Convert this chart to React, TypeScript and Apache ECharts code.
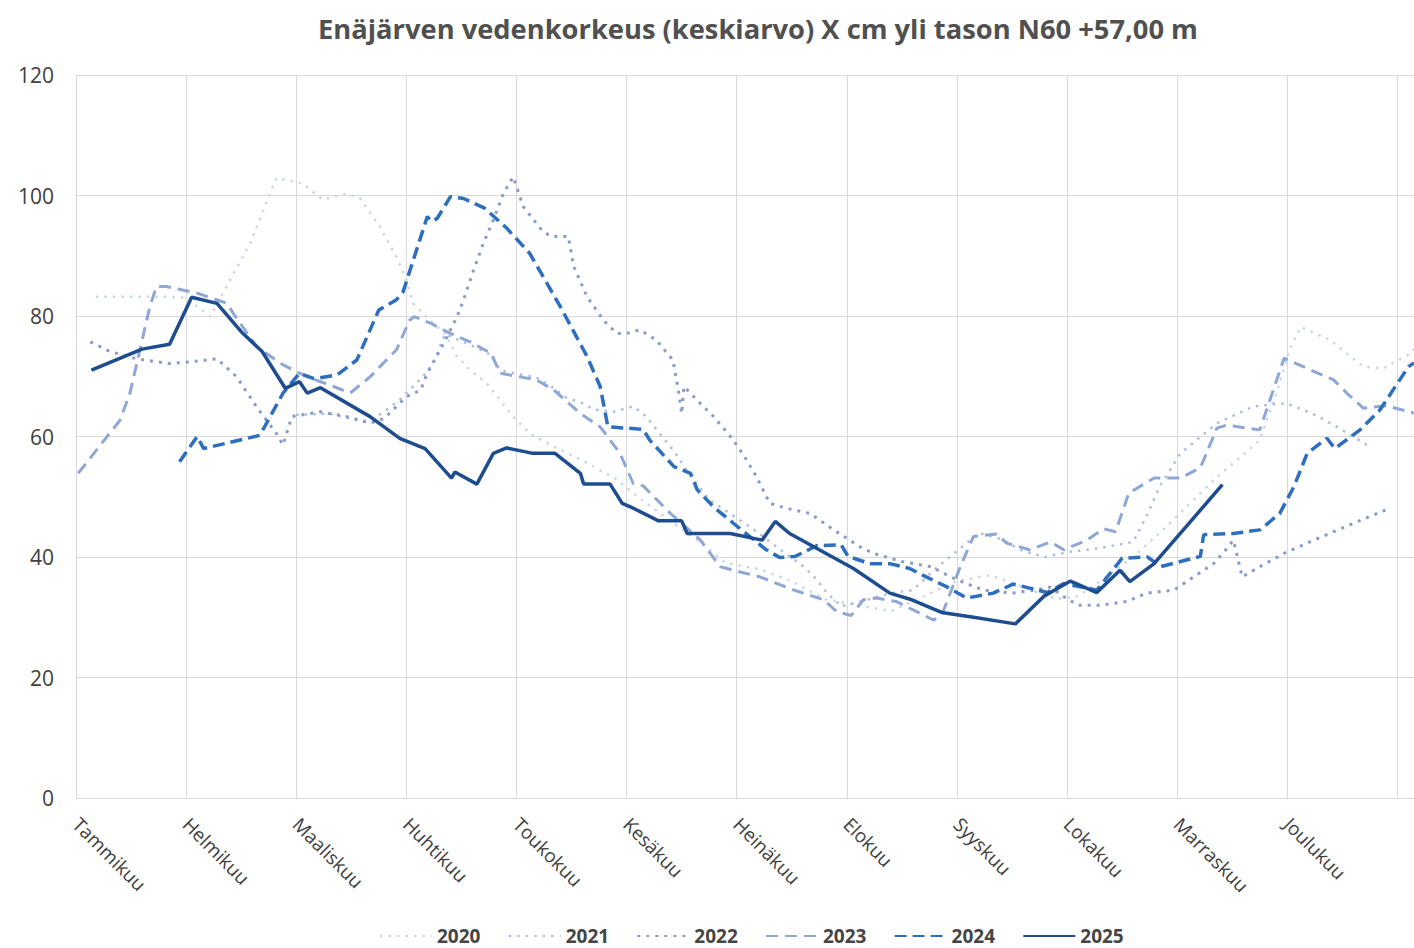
import React, { useEffect, useRef } from "react";
import * as echarts from "echarts";

// x = months since 1 January (0 = Tammikuu, 1 = Helmikuu, ...), y = cm above N60 +57,00 m
const months = [
  "Tammikuu", "Helmikuu", "Maaliskuu", "Huhtikuu", "Toukokuu", "Kesäkuu",
  "Heinäkuu", "Elokuu", "Syyskuu", "Lokakuu", "Marraskuu", "Joulukuu",
];
const years = ["2020", "2021", "2022", "2023", "2024", "2025"];

const d2020: [number, number][] = [
  [0.18, 83.2], [0.5, 83.2], [0.85, 83.2], [1.0, 83], [1.22, 79.9], [1.4, 86], [1.58, 92],
  [1.76, 100.3], [1.82, 102.9], [2.06, 102], [2.24, 99.3], [2.46, 100.3], [2.58, 99.5],
  [2.76, 94.8], [2.91, 89.8], [3.0, 86], [3.06, 82.1], [3.21, 79.3], [3.35, 77.1],
  [3.46, 73.3], [3.58, 71], [3.73, 68.8], [3.85, 66.1], [3.97, 63.3], [4.12, 60.5],
  [4.28, 58.9], [4.6, 56], [4.9, 53], [5.1, 50], [5.4, 46], [5.7, 42], [5.9, 39],
  [6.2, 38], [6.5, 36], [6.8, 33], [7.1, 32], [7.4, 31], [7.7, 33.5], [8.0, 36],
  [8.3, 37], [8.6, 35], [8.9, 33], [9.1, 33.5], [9.3, 36], [9.6, 40], [9.9, 45],
  [10.15, 49.5], [10.33, 52.8], [10.6, 57], [10.75, 59.4], [10.91, 67.7], [11.03, 74.9],
  [11.12, 78.2], [11.39, 76], [11.69, 71.6], [11.87, 71.3], [12.12, 73.8], [12.15, 74.5],
];

const d2021: [number, number][] = [
  [2.0, 63.6], [2.3, 63.8], [2.6, 62.5], [2.73, 63.3], [2.84, 64.7], [2.94, 66.1],
  [3.06, 68.3], [3.15, 69.9], [3.24, 72.1], [3.35, 77.0], [3.58, 75.2], [3.77, 73.5],
  [3.85, 71], [4.03, 70.3], [4.18, 69.8], [4.34, 68], [4.45, 66.5], [4.6, 65.5],
  [4.7, 64.5], [4.88, 64.1], [5.06, 65], [5.18, 63.3], [5.3, 60.5], [5.42, 57.8],
  [5.6, 53], [5.75, 49.5], [5.94, 47.2], [6.12, 45], [6.24, 43.4], [6.36, 41.7],
  [6.61, 38.4], [6.73, 36.2], [6.82, 34], [6.95, 31.8], [7.2, 33], [7.4, 34],
  [7.6, 34.5], [7.8, 38], [8.0, 41], [8.2, 44], [8.4, 43], [8.6, 41], [8.8, 40],
  [9.0, 40.8], [9.3, 41.5], [9.6, 42.5], [9.72, 46.7], [9.84, 51.7], [10.03, 57.2],
  [10.36, 62.2], [10.69, 65], [10.99, 65.5], [11.23, 63.8], [11.47, 61.4], [11.72, 58.6],
];

const d2022: [number, number][] = [
  [0.13, 75.7], [0.31, 74.1], [0.55, 72.9], [0.85, 72.1], [1.04, 72.4], [1.28, 72.9],
  [1.46, 69.9], [1.64, 64.9], [1.82, 60.5], [1.88, 58.6], [1.96, 63.3], [2.22, 64.1],
  [2.46, 63.3], [2.67, 62.2], [2.8, 63.0], [3.0, 66.6], [3.13, 67.7], [3.19, 70.5],
  [3.34, 75.5], [3.46, 79.9], [3.52, 82.7], [3.61, 87.6], [3.7, 92.1], [3.79, 95.9],
  [3.88, 100.3], [3.97, 103.1], [4.06, 98.2], [4.24, 94], [4.32, 93.2], [4.47, 93.2],
  [4.52, 88.2], [4.64, 83.2], [4.79, 79.3], [4.91, 77.1], [5.0, 77.1], [5.12, 77.7],
  [5.27, 76], [5.42, 72.7], [5.47, 67.7], [5.5, 63.8], [5.52, 68.3], [5.61, 66.6],
  [5.79, 63.3], [5.97, 59.4], [6.09, 56.1], [6.18, 53.3], [6.3, 48.9], [6.45, 48.1],
  [6.67, 47.2], [6.88, 44.5], [7.12, 41.7], [7.24, 40.6], [7.51, 39.2], [7.76, 38.4],
  [8.0, 36.2], [8.24, 34.5], [8.5, 34], [8.7, 34.5], [8.85, 35], [8.97, 33.4],
  [9.1, 32], [9.3, 32], [9.54, 32.6], [9.72, 34], [9.97, 34.5], [10.15, 36.7],
  [10.33, 38.9], [10.45, 41.4], [10.51, 42.8], [10.59, 36.7], [10.75, 38.4],
  [10.97, 40.6], [11.24, 42.8], [11.6, 45.6], [11.89, 47.8],
];

const d2023: [number, number][] = [
  [0.02, 53.9], [0.4, 62.7], [0.49, 67.2], [0.67, 81.5], [0.73, 84.9], [0.82, 84.9],
  [1.1, 83.8], [1.37, 82.1], [1.43, 80.4], [1.64, 74.9], [1.88, 71.9], [2.1, 69.9],
  [2.34, 68.3], [2.49, 67.2], [2.67, 69.9], [2.91, 74.4], [3.03, 79.3], [3.07, 79.9],
  [3.22, 78.8], [3.4, 77.1], [3.58, 75.7], [3.77, 73.8], [3.85, 70.5], [4.03, 69.9],
  [4.18, 69.4], [4.34, 67.7], [4.58, 63.8], [4.76, 61.6], [4.94, 57.2], [5.06, 52.2],
  [5.15, 51.8], [5.4, 47.2], [5.67, 42.8], [5.85, 38.4], [5.97, 37.8], [6.21, 36.7],
  [6.52, 34.5], [6.79, 32.9], [6.91, 30.9], [7.04, 30.3], [7.15, 32.9], [7.27, 33.2],
  [7.45, 32.6], [7.67, 30.6], [7.79, 29.5], [7.88, 31.2], [8.03, 38.4], [8.15, 43.4],
  [8.36, 43.8], [8.45, 42.3], [8.66, 41.2], [8.85, 42.5], [8.97, 41.2], [9.18, 42.8],
  [9.33, 44.7], [9.44, 44.2], [9.56, 50.6], [9.79, 53.1], [10.03, 53.1], [10.21, 54.8],
  [10.36, 61.4], [10.45, 61.9], [10.75, 61.1], [10.97, 73], [11.18, 71.3], [11.42, 69.4],
  [11.54, 67.2], [11.69, 64.7], [11.9, 65.1], [12.15, 63.9],
];

const d2024: [number, number][] = [
  [0.94, 55.8], [1.1, 60.0], [1.16, 58.0], [1.67, 60.2], [1.88, 67.2], [2.03, 70.5],
  [2.16, 69.6], [2.37, 70.2], [2.55, 72.7], [2.75, 81.0], [2.91, 82.7], [2.97, 84.0],
  [3.19, 96.5], [3.23, 95.7], [3.28, 96.2], [3.4, 99.8], [3.52, 99.5], [3.71, 97.9],
  [3.91, 94.6], [4.12, 90.4], [4.4, 81.5], [4.64, 73.3], [4.76, 68.3], [4.83, 61.6],
  [5.15, 61.2], [5.21, 59.4], [5.43, 55], [5.58, 53.9], [5.64, 51.2], [5.79, 48.3],
  [5.97, 45.6], [6.26, 41.3], [6.39, 39.9], [6.53, 40.1], [6.73, 41.9], [6.95, 42],
  [7.01, 40.1], [7.21, 38.9], [7.39, 38.9], [7.57, 38.1], [7.72, 36.7], [7.9, 35.1],
  [8.09, 33.2], [8.33, 34.0], [8.51, 35.5], [8.67, 34.8], [8.82, 34.1], [8.97, 35.6],
  [9.27, 34.5], [9.5, 39.8], [9.73, 40.0], [9.85, 38.4], [10.21, 40.1], [10.24, 43.7],
  [10.51, 43.9], [10.75, 44.5], [10.93, 47.2], [11.06, 51.7], [11.18, 57.2],
  [11.36, 59.7], [11.43, 58.0], [11.66, 61.1], [11.84, 64.4], [12.1, 71.6], [12.15, 72.2],
];

const d2025: [number, number][] = [
  [0.14, 71], [0.6, 74.5], [0.85, 75.3], [1.05, 83.1], [1.28, 82.1], [1.5, 77.4],
  [1.69, 74.1], [1.9, 68.0], [2.03, 69.1], [2.1, 67.2], [2.22, 68.1], [2.67, 63.3],
  [2.94, 59.7], [3.17, 58.0], [3.41, 53.1], [3.44, 54.1], [3.64, 52.1], [3.79, 57.2],
  [3.91, 58.1], [4.15, 57.2], [4.35, 57.2], [4.58, 53.9], [4.61, 52.1], [4.85, 52.1],
  [4.96, 48.9], [5.06, 48.1], [5.29, 46.0], [5.5, 46.0], [5.55, 43.9], [5.94, 43.9],
  [6.23, 42.8], [6.35, 45.9], [6.48, 43.9], [7.06, 38.1], [7.39, 34.0], [7.59, 32.9],
  [7.86, 30.8], [8.15, 30.0], [8.53, 28.9], [8.79, 33.5], [9.03, 36.0], [9.27, 34.1],
  [9.48, 37.8], [9.57, 35.9], [9.79, 38.9], [10.41, 52.0],
];

const FONT = "'Open Sans', 'Noto Sans', sans-serif";

export default function App() {
  const ref = useRef<HTMLDivElement>(null);
  useEffect(() => {
    document.body.style.margin = "0";
    if (!ref.current) return;
    const chart = echarts.init(ref.current, undefined, { renderer: "svg" });
    const styles = [
      { data: d2020, color: "#ccd6ea", width: 2.5, type: [2.5, 6] },
      { data: d2021, color: "#aebddf", width: 2.5, type: [2.5, 6] },
      { data: d2022, color: "#8a9bca", width: 3, type: [3, 6] },
      { data: d2023, color: "#8ea7d7", width: 3, type: [12, 7] },
      { data: d2024, color: "#2e6ebe", width: 3.5, type: [12, 6] },
      { data: d2025, color: "#1d4c8f", width: 3.5, type: "solid" },
    ];
    chart.setOption({
      animation: false,
      backgroundColor: "#ffffff",
      title: {
        text: "Enäjärven vedenkorkeus (keskiarvo) X cm yli tason N60 +57,00 m",
        left: 753,
        top: 10,
        textAlign: "center",
        textStyle: { fontFamily: FONT, fontSize: 27.3, fontWeight: "bold", color: "#505050" },
      },
      grid: { left: 76, right: 0, top: 75, bottom: 150, containLabel: false },
      legend: {
        data: years,
        left: 377,
        top: 924,
        itemWidth: 52,
        itemHeight: 12,
        itemGap: 27.2,
        padding: 2,
        itemStyle: { opacity: 0 },
        textStyle: { fontFamily: FONT, fontSize: 19, fontWeight: "bold", color: "#454545", lineHeight: 20 },
      },
      xAxis: {
        type: "value",
        min: 0,
        max: 12.15,
        interval: 1,
        axisLine: { show: true, lineStyle: { color: "#d9d9d9", width: 1 } },
        axisTick: { show: false },
        splitLine: { show: true, lineStyle: { color: "#d9d9d9", width: 1 } },
        axisLabel: {
          rotate: -45,
          margin: 23,
          fontFamily: FONT,
          fontSize: 19,
          color: "#404040",
          showMaxLabel: false,
          formatter: (v: number) => (Number.isInteger(v) && v < months.length ? months[v] : ""),
        },
      },
      yAxis: {
        type: "value",
        min: 0,
        max: 120,
        interval: 20,
        axisLine: { show: false },
        axisTick: { show: false },
        splitLine: { show: true, lineStyle: { color: "#d9d9d9", width: 1 } },
        axisLabel: { margin: 22, fontFamily: FONT, fontSize: 21, color: "#404040" },
      },
      series: styles.map((s, i) => ({
        name: years[i],
        type: "line",
        data: s.data,
        symbol: "none",
        showSymbol: false,
        smooth: false,
        color: s.color,
        lineStyle: { color: s.color, width: s.width, type: s.type, cap: "butt" },
        z: 2 + i,
      })),
    });
    return () => chart.dispose();
  }, []);
  return <div ref={ref} style={{ width: 1414, height: 948 }} />;
}
